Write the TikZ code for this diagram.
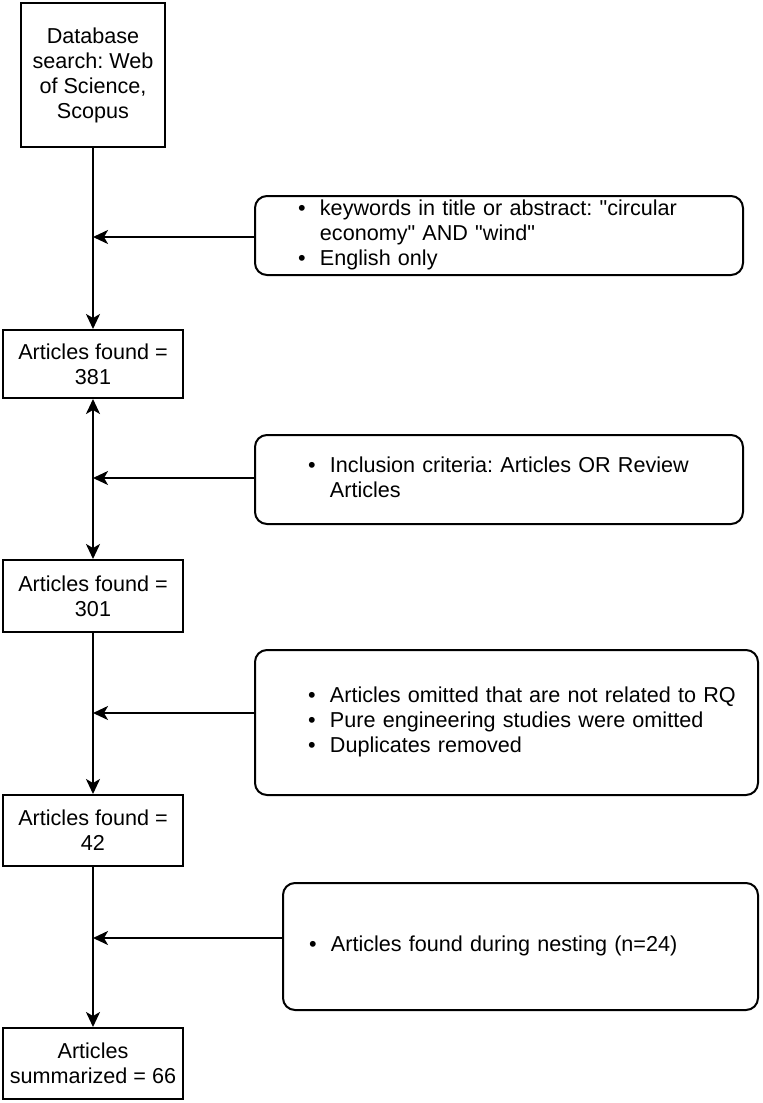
\documentclass[tikz,border=0pt]{standalone}
\usepackage{fontspec}
\setmainfont{Liberation Sans}
\usetikzlibrary{arrows.meta}
\frenchspacing
\newcommand{\critlist}[1]{\begin{tabular}{@{}l@{\hspace{7.2pt}}l@{}}#1\end{tabular}}
\newcommand{\dq}{\textquotedbl}
\begin{document}
\begin{tikzpicture}[x=.5pt, y=-.5pt, >={Stealth[length=7.5pt,width=7pt,inset=2pt]}, line width=1pt,
  every node/.style={font=\fontsize{10.8}{12.5}\selectfont},
  stage/.style={draw, align=center, minimum width=90pt, inner sep=2pt},
  crit/.style={draw, rounded corners=6pt, align=left, inner ysep=0pt}]
\useasboundingbox (0,0) rectangle (762,1103);
\node[stage, minimum width=72pt, minimum height=72pt] (db) at (93,75) {Database\\search: Web\\of Science,\\Scopus};
\node[stage, minimum height=34pt] (a381) at (93,364) {Articles found =\\381};
\node[stage, minimum height=36pt] (a301) at (93,596) {Articles found =\\301};
\node[stage, minimum height=35.5pt] (a42) at (93,830.5) {Articles found =\\42};
\node[stage, minimum height=35.5pt] (a66) at (93,1063.5) {Articles\\summarized = 66};
\node[crit, text width=201pt, inner xsep=21.5pt, minimum height=39.5pt] (crit1) at (499,235.5)
  {\critlist{\textbullet & keywords in title or abstract: \dq circular\\ & economy\dq{} AND \dq wind\dq\\ \textbullet & English only}};
\node[crit, text width=191pt, inner xsep=26.5pt, minimum height=44.5pt] (crit2) at (499,479.5)
  {\critlist{\textbullet & Inclusion criteria: Articles OR Review\\ & Articles}};
\node[crit, text width=198.5pt, inner xsep=26.5pt, minimum height=72.5pt] (crit3) at (506.5,722.5)
  {\critlist{\textbullet & Articles omitted that are not related to RQ\\ \textbullet & Pure engineering studies were omitted\\ \textbullet & Duplicates removed}};
\node[crit, text width=211.5pt, inner xsep=13pt, minimum height=63.5pt] (crit4) at (520.5,946.5)
  {\critlist{\textbullet & Articles found during nesting (n=24)}};
\coordinate (in1) at ([yshift=-.75pt]crit1.west);
\coordinate (in2) at ([yshift=.75pt]crit2.west);
\coordinate (in3) at ([yshift=4.75pt]crit3.west);
\coordinate (in4) at ([yshift=4.25pt]crit4.west);
\draw[->] (db) -- (a381);
\draw[<->] (a381) -- (a301);
\draw[->] (a301) -- (a42);
\draw[->] (a42) -- (a66);
\draw[->] (in1) -- (in1 -| db.south);
\draw[->] (in2) -- (in2 -| a381.south);
\draw[->] (in3) -- (in3 -| a301.south);
\draw[->] (in4) -- (in4 -| a42.south);
\end{tikzpicture}
\end{document}
